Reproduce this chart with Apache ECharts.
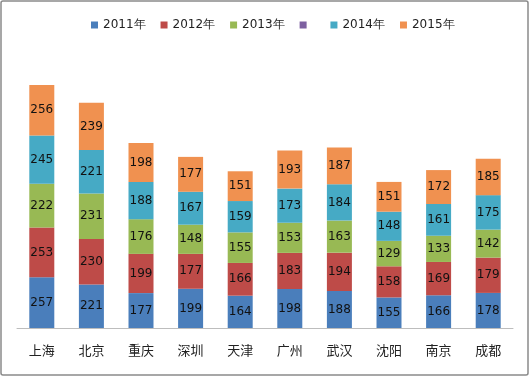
<!DOCTYPE html>
<html>
<head>
<meta charset="utf-8">
<script src="https://cdn.jsdelivr.net/npm/echarts@6/dist/echarts.min.js"></script>
<style>
html,body{margin:0;padding:0;background:#fff;}
#main{width:530px;height:377px;}
</style>
</head>
<body>
<div id="main"></div>
<script>
var cities = ['上海','北京','重庆','深圳','天津','广州','武汉','沈阳','南京','成都'];
var y2011 = [257,221,177,199,164,198,188,155,166,178];
var y2012 = [253,230,199,177,166,183,194,158,169,179];
var y2013 = [222,231,176,148,155,153,163,129,133,142];
var yBlank = [];
var y2014 = [245,221,188,167,159,173,184,148,161,175];
var y2015 = [256,239,198,177,151,193,187,151,172,185];

var names = ['2011年','2012年','2013年',' ','2014年','2015年'];
var colors = ['#4a7ebb','#be4b48','#98b954','#7d60a0','#46aac5','#f09150'];
var values = [y2011,y2012,y2013,yBlank,y2014,y2015];

var myChart = echarts.init(document.getElementById('main'));
var series = [];
for(var i=0;i<names.length;i++){
	series.push({
		name:names[i],
		type:'bar',
		stack:'total',
		barWidth:25,
		data:values[i],
		itemStyle:{color:colors[i]},
		label:{show:true,position:'inside',color:'#111',fontSize:12,fontFamily:'DejaVu Sans'}
	});
}
var option = {
	animation:false,
	color:colors,
	textStyle:{fontFamily:'DejaVu Sans'},
	graphic:[{type:'rect',shape:{x:1,y:1,width:527,height:374,r:2},style:{fill:'none',stroke:'#8a8a8a',lineWidth:1.5}}],
	legend:{
		data:names,
		left:86,
		top:14,
		icon:'rect',
		itemWidth:7,
		itemHeight:7,
		itemGap:15,
		textStyle:{fontSize:12,color:'#222',fontFamily:'DejaVu Sans'}
	},
	grid:{left:17,right:17,top:52,bottom:49},
	xAxis:{
		type:'category',
		data:cities,
		axisTick:{show:false},
		axisLine:{lineStyle:{color:'#bdbdbd'}},
		axisLabel:{color:'#222',fontSize:13,margin:16,fontFamily:'Noto Sans CJK SC'}
	},
	yAxis:{type:'value',min:0,max:1400,show:false,splitLine:{show:false}},
	series:series
};
myChart.setOption(option);
</script>
</body>
</html>
